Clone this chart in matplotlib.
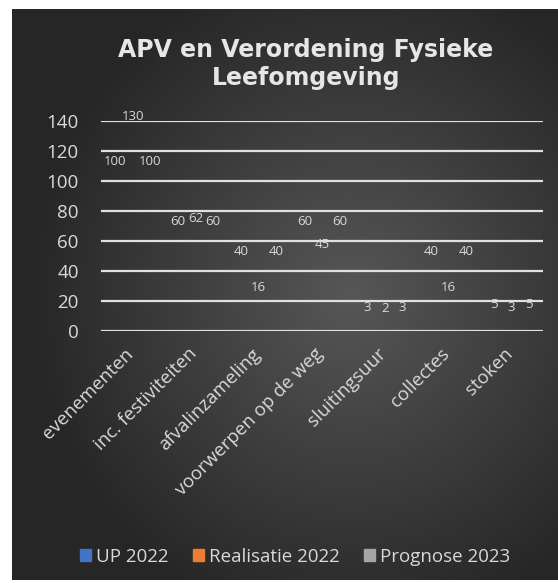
import matplotlib.pyplot as plt
import matplotlib.transforms as mtransforms
import numpy as np

# data
categories = ['evenementen', 'inc. festiviteiten', 'afvalinzameling',
              'voorwerpen op de weg', 'sluitingsuur', 'collectes', 'stoken']
series_names = ['UP 2022', 'Realisatie 2022', 'Prognose 2023']
up_2022 = [100, 60, 40, 60, 3, 40, 5]
realisatie_2022 = [130, 62, 16, 45, 2, 16, 3]
prognose_2023 = [100, 60, 40, 60, 3, 40, 5]
series_colors = ['#4472c4', '#ed7d31', '#a5a5a5']
y_ticks = [0, 20, 40, 60, 80, 100, 120, 140]

plt.rcParams['font.family'] = ['Open Sans', 'DejaVu Sans']
txt_col = '#d9d9d9'

fig = plt.figure(figsize=(5.58, 5.83), dpi=100)
fig.patch.set_facecolor('white')

# ---- achtergrond met radiaal verloop ----
bg = fig.add_axes([12/558, 3/583, 546/558, 571/583], zorder=-10)
h, w = 300, 300
yy, xx = np.mgrid[0:h, 0:w]
r = np.sqrt(((xx - 0.62*w)/w)**2 + ((yy - 0.50*h)/h)**2)
shade = np.clip(0.34 - r*0.32, 0.15, 0.34)
bg.imshow(np.dstack([shade]*3), aspect='auto', extent=[0, 1, 0, 1])
bg.axis('off')

# ---- plotgebied ----
ax = fig.add_axes([101/558, 1-331/583, 442/558, 210/583])
ax.patch.set_alpha(0)
x = np.arange(len(categories))
off = 0.277
all_series = [up_2022, realisatie_2022, prognose_2023]
for k, vals in enumerate(all_series):
    xs = x + (k-1)*off
    # balken zijn in het origineel niet zichtbaar
    ax.bar(xs, vals, width=0.26, color=series_colors[k], alpha=0, label=series_names[k])
    for xi, v in zip(xs, vals):
        ax.annotate(str(v), (xi, v), xytext=(0, 14), textcoords='offset points',
                    ha='center', va='center', color=txt_col, fontsize=9.5,
                    annotation_clip=False)

ax.set_xlim(-0.5, len(categories)-0.5)
ax.set_ylim(0, 140)
ax.set_yticks(y_ticks)
ax.set_yticklabels([str(t) for t in y_ticks], color=txt_col, fontsize=13.5)
ax.set_xticks(x)
ax.set_xticklabels(categories, rotation=45, ha='right', rotation_mode='anchor',
                   color=txt_col, fontsize=13.5)
ax.tick_params(axis='y', length=0, pad=16)
ax.tick_params(axis='x', length=0, pad=10)
shift = mtransforms.ScaledTranslation(-8/100, 0, fig.dpi_scale_trans)
for lbl in ax.get_xticklabels():
    lbl.set_transform(lbl.get_transform() + shift)
for sp in ax.spines.values():
    sp.set_visible(False)
for t in y_ticks:
    ax.axhline(t, color='#e0e0e0', lw=1.6, zorder=0)

# ---- titel ----
fig.text(306/558, 1-64/583, 'APV en Verordening Fysieke\nLeefomgeving',
         ha='center', va='center', color='#e6e6e6', fontsize=17,
         fontweight='bold', family='DejaVu Sans', linespacing=1.2)

# ---- legenda ----
handles = [plt.Rectangle((0, 0), 1, 1, color=c) for c in series_colors]
leg = fig.legend(handles, series_names, loc='center', bbox_to_anchor=(295/558, 1-557/583),
                 ncol=3, frameon=False, fontsize=13.5, handlelength=0.6, handleheight=0.6,
                 handletextpad=0.25, columnspacing=1.3)
for t in leg.get_texts():
    t.set_color(txt_col)

plt.savefig('out.png', dpi=100)
